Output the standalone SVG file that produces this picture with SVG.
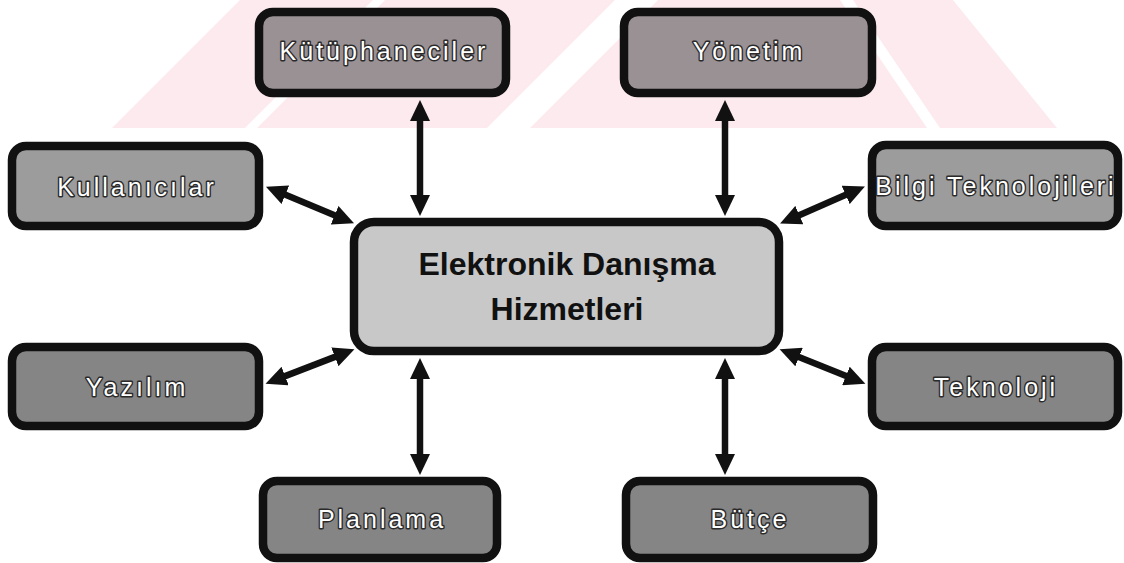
<svg xmlns="http://www.w3.org/2000/svg" width="1124" height="563" viewBox="0 0 1124 563">
  <defs>
    <marker id="head" markerUnits="userSpaceOnUse" markerWidth="22" markerHeight="20" viewBox="0 0 22 20" refX="7" refY="10" orient="auto-start-reverse">
      <path d="M0,0 L21,10 L0,20 Z" fill="#111"/>
    </marker>
    <clipPath id="band">
      <rect x="0" y="0" width="1124" height="128"/>
    </clipPath>
  </defs>
  <style>
    .box { stroke: #111; stroke-width: 8.5; }
    .top { fill: #9a9195; }
    .side { fill: #9c9c9c; }
    .low { fill: #858585; }
    .core { fill: #c8c8c8; }
    .lbl { font-family: "Liberation Sans", Arial, sans-serif; font-size: 25px; letter-spacing: 3px; fill: #fff; stroke: #2a2a2a; stroke-width: 2.8px; paint-order: stroke; stroke-linejoin: round; text-anchor: middle; }
    .title { font-family: "Liberation Sans", Arial, sans-serif; font-size: 32px; font-weight: bold; fill: #111; text-anchor: middle; }
    .link { stroke: #111; stroke-width: 6.5; fill: none; marker-start: url(#head); marker-end: url(#head); }
  </style>

  <rect width="1124" height="563" fill="#fff"/>

  <!-- faint backdrop band -->
  <g id="backdrop" clip-path="url(#band)">
    <polygon points="112,128 240,0 953,0 1057,128" fill="#fdeaee"/>
    <polygon points="245,128 373,0 385,0 257,128" fill="#fff"/>
    <polygon points="487,128 615,0 658,0 530,128" fill="#fff"/>
    <polygon points="840,0 853,0 940,128 927,128" fill="#fff"/>
  </g>

  <!-- connectors -->
  <g id="connectors">
    <line class="link" x1="420" y1="114" x2="420" y2="202"/>
    <line class="link" x1="725" y1="114" x2="725" y2="202"/>
    <line class="link" x1="420" y1="372" x2="420" y2="461"/>
    <line class="link" x1="725" y1="372" x2="725" y2="461"/>
    <line class="link" x1="278.9" y1="192.1" x2="341.1" y2="217.9"/>
    <line class="link" x1="852.1" y1="192.1" x2="792.9" y2="217.9"/>
    <line class="link" x1="278.6" y1="378.6" x2="341.4" y2="354.4"/>
    <line class="link" x1="852.4" y1="378.6" x2="792.6" y2="354.4"/>
  </g>

  <g id="center">
    <rect class="box core" x="354" y="222" width="425" height="129" rx="20"/>
    <text class="title" x="567" y="275">Elektronik Danışma</text>
    <text class="title" x="567" y="320">Hizmetleri</text>
  </g>

  <g id="kutuphaneciler">
    <rect class="box top" x="259" y="12" width="247" height="81" rx="14"/>
    <text class="lbl" x="384" y="60">Kütüphaneciler</text>
  </g>

  <g id="yonetim">
    <rect class="box top" x="624" y="12" width="248" height="81" rx="14"/>
    <text class="lbl" x="749" y="60">Yönetim</text>
  </g>

  <g id="kullanicilar">
    <rect class="box side" x="12" y="146" width="247" height="80" rx="14"/>
    <text class="lbl" x="137" y="196">Kullanıcılar</text>
  </g>

  <g id="bilgi-teknolojileri">
    <rect class="box side" x="872" y="145" width="246" height="81" rx="14"/>
    <text class="lbl" x="996" y="195">Bilgi Teknolojileri</text>
  </g>

  <g id="yazilim">
    <rect class="box low" x="12" y="347" width="247" height="79" rx="14"/>
    <text class="lbl" x="137" y="396">Yazılım</text>
  </g>

  <g id="teknoloji">
    <rect class="box low" x="872" y="347" width="246" height="79" rx="14"/>
    <text class="lbl" x="996" y="396">Teknoloji</text>
  </g>

  <g id="planlama">
    <rect class="box low" x="263" y="481" width="234" height="77" rx="14"/>
    <text class="lbl" x="382" y="528">Planlama</text>
  </g>

  <g id="butce">
    <rect class="box low" x="626" y="481" width="247" height="77" rx="14"/>
    <text class="lbl" x="750" y="528">Bütçe</text>
  </g>
</svg>
